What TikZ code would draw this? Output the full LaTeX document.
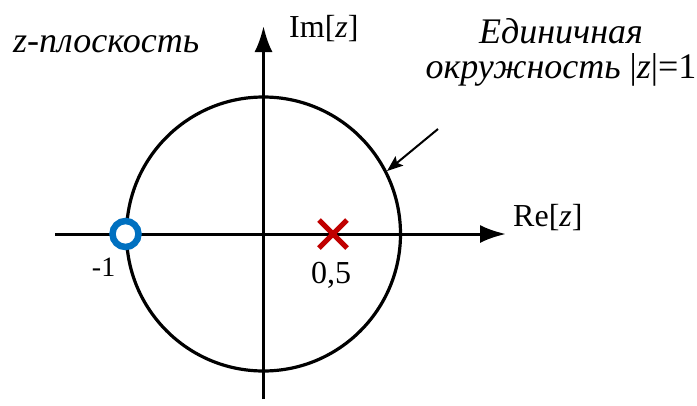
\documentclass[tikz,border=0pt]{standalone}
\usepackage{fontspec}
\setmainfont{Liberation Serif}
\usetikzlibrary{arrows.meta}
\definecolor{polered}{RGB}{192,0,0}
\definecolor{zeroblue}{RGB}{0,112,192}
\begin{document}
\begin{tikzpicture}[x=1pt,y=-1pt,
  axis/.style={line width=3pt,-{Latex[length=26pt,width=18pt]}},
  lbl/.style={inner sep=0pt,font=\fontsize{32}{35}\selectfont},
  itlbl/.style={inner sep=0pt,font=\fontsize{36}{35}\selectfont\itshape},
  smalllbl/.style={inner sep=0pt,font=\fontsize{28}{30}\selectfont}]
\useasboundingbox (0,0) rectangle (697,405);
% coordinates
\coordinate (O) at (263.5,234);
\coordinate (xs) at (55,234);
\coordinate (xe) at (506,234);
\coordinate (ys) at (263.5,399);
\coordinate (ye) at (263.5,26);
% unit circle
\node[draw,circle,line width=3.2pt,minimum size=274pt,inner sep=0pt] (uc) at (O) {};
% axes
\draw[axis] (xs) -- (xe);
\draw[axis] (ys) -- (ye);
% labels
\node[lbl,anchor=base west] (im) at (289,37) {Im[\textit{z}]};
\node[lbl,anchor=base west] (re) at (513,226) {Re[\textit{z}]};
\node[itlbl,anchor=base west] (zp) at (13,52) {z-плоскость};
\node[itlbl,align=center,anchor=base] (cap) at (561,78) {Единичная\\окружность {\upshape|}z{\upshape|=1}};
% annotation arrow
\coordinate (as) at (438,129);
\draw[line width=2pt,-{Stealth[length=16pt,width=12pt,inset=3pt]}] (as) -- (uc.27);
% zero at -1
\node[circle,draw=zeroblue,fill=white,line width=6.5pt,minimum size=26pt,inner sep=0pt] (zero) at (125.5,234) {};
\node[smalllbl,anchor=base east] (m1) at (115.5,276) {-1};
% pole at 0.5
\coordinate (pole) at (333,234);
\draw[polered,line width=5pt] ([shift={(-14,-14)}]pole) -- ([shift={(14,14)}]pole)
  ([shift={(-14,14)}]pole) -- ([shift={(14,-14)}]pole);
\node[lbl,anchor=base] (half) at (331,283) {0,5};
\end{tikzpicture}
\end{document}
